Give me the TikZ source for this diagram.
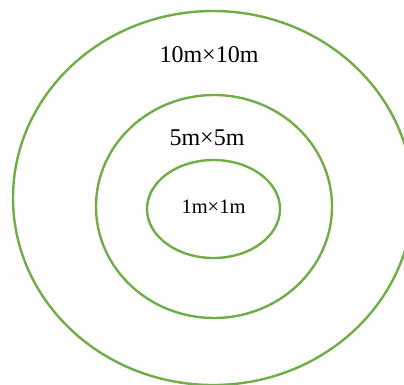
\documentclass[tikz,border=0pt]{standalone}
\usepackage{fontspec}
\setmainfont{Liberation Serif}
\definecolor{ringgreen}{HTML}{70AD47}
\begin{document}
\begin{tikzpicture}[x=1pt,y=-1pt,
  ring/.style={draw=ringgreen,line width=2.4pt},
  lbl/.style={inner sep=0pt,font=\fontsize{24}{27}\selectfont},
  lblsmall/.style={inner sep=0pt,font=\fontsize{20.5}{24}\selectfont}]
\useasboundingbox (0,0) rectangle (404,384);
\begin{scope}
\clip (0,0) rectangle (404,384);
\draw[ring] (213,198) ellipse [x radius=200, y radius=187];
\draw[ring] (214,206.5) ellipse [x radius=118, y radius=111.5];
\draw[ring] (213.5,209) ellipse [x radius=66.5, y radius=49];
\end{scope}
\node[lbl] (outer) at (209,55) {10m×10m};
\node[lbl] (middle) at (207,138) {5m×5m};
\node[lblsmall] (inner) at (213.5,207) {1m×1m};
\end{tikzpicture}
\end{document}
